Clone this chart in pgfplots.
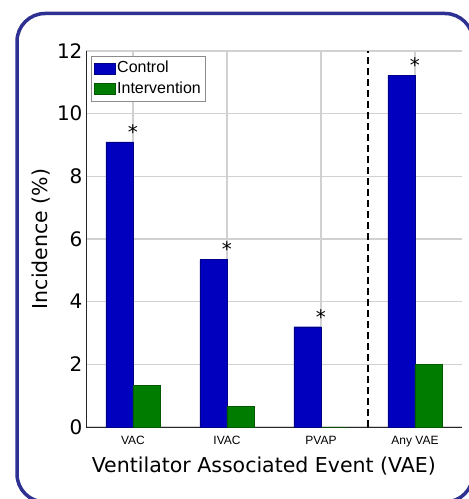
\documentclass[border=0pt]{standalone}
\usepackage{fontspec}
\setmainfont{DejaVu Sans}
\newfontfamily\arialf{Liberation Sans}
\usepackage{pgfplots}
\pgfplotsset{compat=1.18}
\definecolor{ctrl}{RGB}{0,0,190}
\definecolor{intv}{RGB}{0,125,0}
\definecolor{frame}{RGB}{46,49,146}
\begin{document}
\begin{tikzpicture}[x=1pt,y=1pt]
\draw[frame, line width=3.5pt, rounded corners=28pt] (17,-3) rectangle (473,485.5);
\begin{axis}[
  at={(86pt,72pt)}, anchor=south west,
  scale only axis, width=376pt, height=376pt,
  xmin=0.5, xmax=4.5, ymin=0, ymax=12,
  xtick={1,2,3,4}, xticklabels={VAC,IVAC,PVAP,Any VAE},
  ytick={0,2,4,6,8,10,12},
  axis x line*=bottom, axis y line*=left,
  axis line style={black!85, line width=0.9pt, -},
  major tick length=0pt,
  grid=major, grid style={draw=black!18, line width=1.1pt},
  /pgf/number format/assume math mode=true,
  yticklabel style={font=\fontsize{20}{24}\selectfont},
  xticklabel style={font=\arialf\fontsize{12}{14}\selectfont, yshift=-6pt},
  xlabel={Ventilator Associated Event (VAE)},
  ylabel={Incidence (\%)},
  label style={font=\fontsize{20.5}{24}\selectfont},
  xlabel style={at={(axis description cs:0.473,-0.1197)}, anchor=base},
  ylabel style={at={(axis description cs:-0.1197,0.5)}, anchor=center},
  ybar, bar width=27pt,
  legend style={at={(axis description cs:0.0133,0.987)}, anchor=north west,
    draw=black!45, line width=0.6pt, font=\arialf\fontsize{16}{19}\selectfont,
    inner xsep=3pt, inner ysep=3.5pt, row sep=3pt,
    nodes={inner sep=1.5pt, text height=11.5pt, text depth=3pt}},
  legend cell align=left,
  legend image code/.code={\fill[#1] (0pt,-5.5pt) rectangle (21pt,5.5pt);},
  clip=false,
]
\addplot[fill=ctrl, draw=ctrl!70!black, line width=0.4pt, bar shift=-13.5pt]
  coordinates {(1,9.10) (2,5.34) (3,3.20) (4,11.22)};
\addlegendentry{Control}
\addplot[fill=intv, draw=intv!70!black, line width=0.4pt, bar shift=13.5pt]
  coordinates {(1,1.33) (2,0.67) (3,0) (4,1.99)};
\addlegendentry{Intervention}
\addplot[forget plot, sharp plot, black, line width=1.6pt, dash pattern=on 7pt off 4pt]
  coordinates {(3.5,0) (3.5,12)};
\addplot[forget plot, sharp plot, draw=none, mark=none, bar shift=0pt,
  nodes near coords={*},
  every node near coord/.append style={font=\fontsize{20}{24}\selectfont, anchor=south, inner sep=2.5pt}]
  coordinates {(1,9.10) (2,5.34) (3,3.20) (4,11.22)};
\end{axis}
\pgfresetboundingbox
\path (0,0) rectangle (469,499);
\end{tikzpicture}
\end{document}
